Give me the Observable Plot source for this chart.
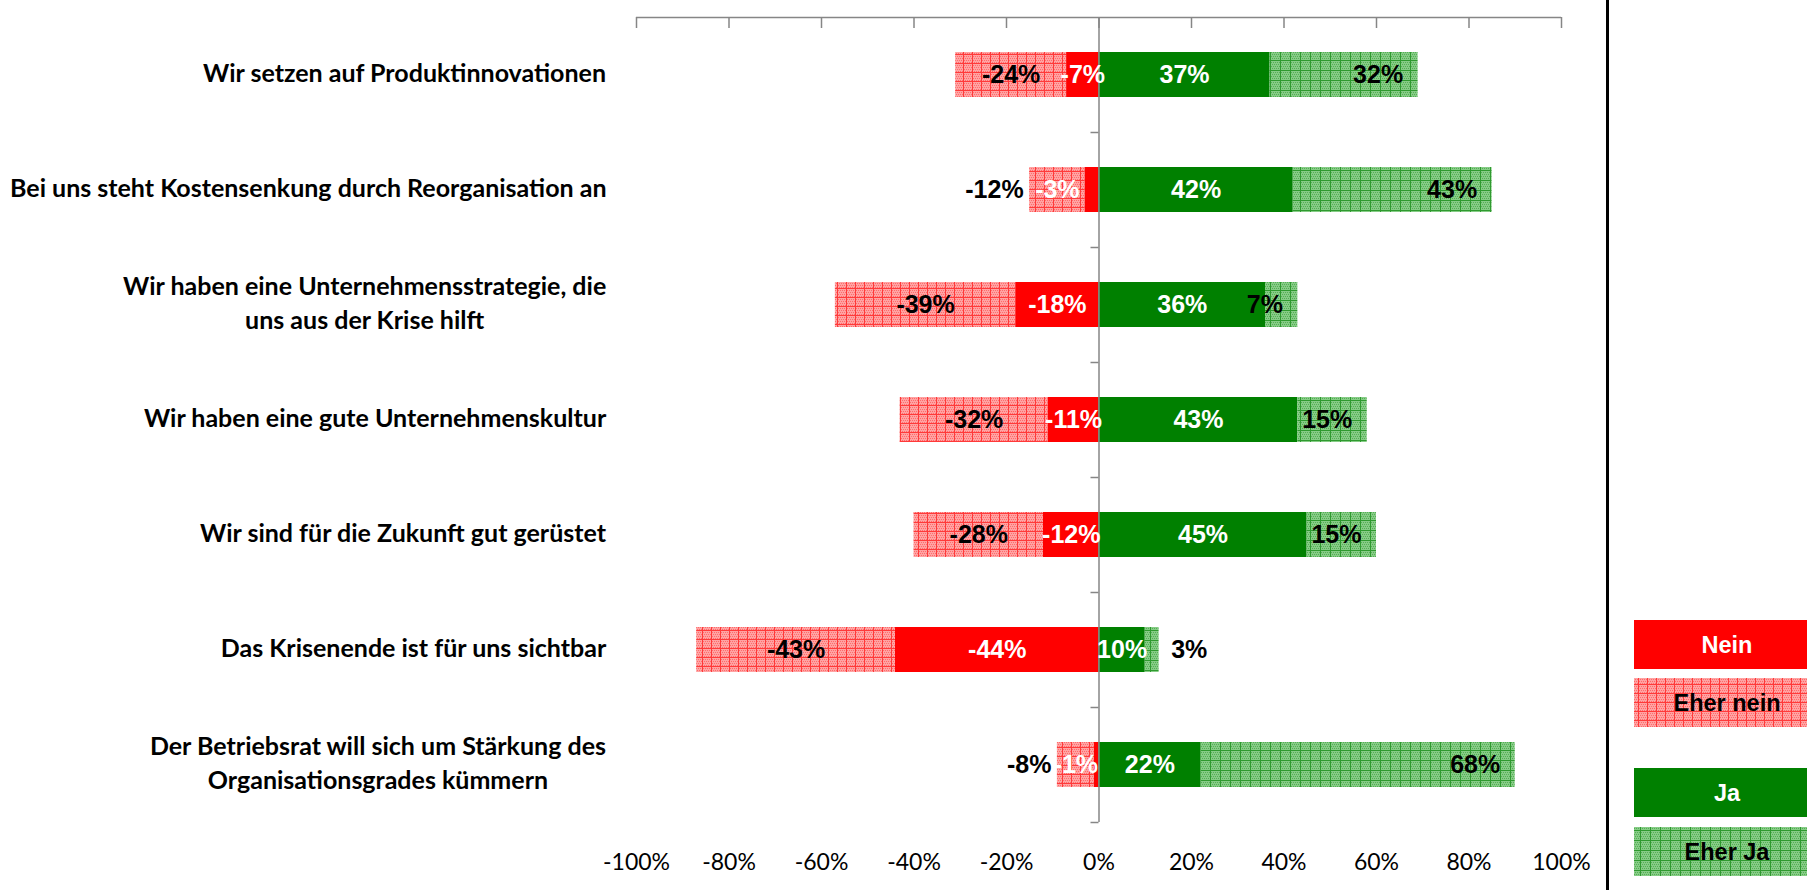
<!DOCTYPE html>
<html><head><meta charset="utf-8">
<script src="https://cdn.jsdelivr.net/npm/d3@7"></script>
<script src="https://cdn.jsdelivr.net/npm/@observablehq/plot@0.6"></script>
<style>
html,body{margin:0;padding:0;background:#fff;}
#chart{width:1807px;height:890px;overflow:hidden;}
</style></head><body><div id="chart"></div>
<script>
// ---- data ----
const categories = [
  "Wir setzen auf Produktinnovationen",
  "Bei uns steht Kostensenkung durch Reorganisation an",
  "Wir haben eine Unternehmensstrategie, die\nuns aus der Krise hilft",
  "Wir haben eine gute Unternehmenskultur",
  "Wir sind für die Zukunft gut gerüstet",
  "Das Krisenende ist für uns sichtbar",
  "Der Betriebsrat will sich um Stärkung des\nOrganisationsgrades kümmern"
];
const series = ["Nein", "Eher nein", "Ja", "Eher Ja"];
const nein     = [-7, -3, -18, -11, -12, -44, -1];
const eherNein = [-24, -12, -39, -32, -28, -43, -8];
const ja       = [37, 42, 36, 43, 45, 10, 22];
const eherJa   = [32, 43, 7, 15, 15, 3, 68];
const xTicks   = [-100, -80, -60, -40, -20, 0, 20, 40, 60, 80, 100];

// ---- layout ----
const W = 1807, H = 890, mL = 636, mR = 246, mT = 17, mB = 68;
const step = (H - mT - mB) / categories.length;
const grey = "#868686";
const labelFont = "'Liberation Sans', Arial, sans-serif";
const catFamily = "Lato, 'Open Sans', sans-serif";
const catSize = 25;
const small = 5;
const fmt = v => `${v}%`;

// segments built from the arrays
const rows = categories.map((cat, i) => ({cat, nein: nein[i], eherNein: eherNein[i], ja: ja[i], eherJa: eherJa[i]}));
const segNein = rows.map(r => ({cat: r.cat, x1: r.nein, x2: 0, v: r.nein, small: Math.abs(r.nein) < small}));
const segEherNein = rows.map(r => ({cat: r.cat, x1: r.nein + r.eherNein, x2: r.nein, v: r.eherNein, small: Math.abs(r.nein) < small}));
const segJa = rows.map(r => ({cat: r.cat, x1: 0, x2: r.ja, v: r.ja}));
const segEherJa = rows.map(r => ({cat: r.cat, x1: r.ja, x2: r.ja + r.eherJa, v: r.eherJa, small: r.eherJa < small}));
const mid = d => (d.x1 + d.x2) / 2;

// category labels: centered multi-line blocks, right aligned at a common edge
const ctx = document.createElement("canvas").getContext("2d");
ctx.font = `bold ${catSize}px Lato`;
const catRight = 606;
const catMarks = categories.map(c => {
  const w = d3.max(c.split("\n"), l => ctx.measureText(l).width);
  return Plot.text([c], {y: d => d, text: d => d, frameAnchor: "left", textAnchor: "middle",
    dx: catRight - w / 2 - mL, dy: -4, fontFamily: catFamily, fontWeight: "bold", fontSize: catSize,
    lineHeight: 1.38, fill: "#000"});
});

const lbl = {fontFamily: labelFont, fontWeight: "bold", fontSize: 25, lineAnchor: "middle"};

const plot = Plot.plot({
  width: W, height: H,
  marginLeft: mL, marginRight: mR, marginTop: mT, marginBottom: mB,
  style: {fontFamily: catFamily, background: "#fff", overflow: "visible"},
  x: {domain: [-100, 100], axis: null},
  y: {domain: categories, paddingInner: 0.61, paddingOuter: 0.305, axis: null},
  marks: [
    // bars
    Plot.barX(segEherNein, {y: "cat", x1: "x1", x2: "x2", fill: "url(#patRed)"}),
    Plot.barX(segNein, {y: "cat", x1: "x1", x2: "x2", fill: "#ff0000"}),
    Plot.barX(segJa, {y: "cat", x1: "x1", x2: "x2", fill: "#008000"}),
    Plot.barX(segEherJa, {y: "cat", x1: "x1", x2: "x2", fill: "url(#patGreen)"}),
    // axes
    Plot.ruleX([0], {stroke: grey, strokeWidth: 1.5}),
    Plot.ruleY(categories, {y: d => d, x1: 0, x2: 0, insetLeft: -8, dy: step / 2, stroke: grey, strokeWidth: 1.5}),
    Plot.ruleY(categories.slice(0, 1), {y: d => d, x1: -100, x2: 100, dy: -step / 2, stroke: grey, strokeWidth: 1.5}),
    Plot.ruleX(xTicks, {x: d => d, insetBottom: (H - mT - mB) - 11, stroke: grey, strokeWidth: 1.5}),
    Plot.axisX({anchor: "bottom", ticks: xTicks, tickSize: 0, tickPadding: 31, tickFormat: fmt,
      fontSize: 23, fontFamily: catFamily, fill: "#000"}),
    // value labels
    Plot.text(segEherNein.filter(d => !d.small), {y: "cat", x: mid, text: d => fmt(d.v), fill: "#000", ...lbl}),
    Plot.text(segEherNein.filter(d => d.small), {y: "cat", x: "x1", text: d => fmt(d.v), textAnchor: "end", dx: -6, fill: "#000", ...lbl}),
    Plot.text(segNein.filter(d => !d.small), {y: "cat", x: mid, text: d => fmt(d.v), fill: "#fff", ...lbl}),
    Plot.text(segNein.filter(d => d.small), {y: "cat", x: (d, i) => mid(segEherNein.filter(e => e.small)[i]), text: d => fmt(d.v), fill: "#fff", ...lbl}),
    Plot.text(segJa, {y: "cat", x: mid, text: d => fmt(d.v), fill: "#fff", ...lbl}),
    Plot.text(segEherJa.filter(d => !d.small), {y: "cat", x: "x2", text: d => fmt(d.v), textAnchor: "end", dx: -15, fill: "#000", ...lbl}),
    Plot.text(segEherJa.filter(d => d.small), {y: "cat", x: "x2", text: d => fmt(d.v), textAnchor: "start", dx: 12, fill: "#000", ...lbl}),
    // category labels
    ...catMarks
  ]
});

// patterns
const svg = d3.select(plot);
const defs = svg.insert("defs", ":first-child");
function pattern(id, size, bg, dot, line) {
  const p = defs.append("pattern").attr("id", id).attr("patternUnits", "userSpaceOnUse")
    .attr("width", size).attr("height", size);
  p.append("rect").attr("width", size).attr("height", size).attr("fill", bg);
  for (let yy = 0; yy < size; yy += 2) for (let xx = (yy / 2) % 2; xx < size; xx += 2)
    p.append("rect").attr("x", xx).attr("y", yy).attr("width", 1).attr("height", 1).attr("fill", dot);
  p.append("rect").attr("x", 0).attr("y", 0).attr("width", size).attr("height", 1).attr("fill", line);
  p.append("rect").attr("x", 0).attr("y", 0).attr("width", 1).attr("height", size).attr("fill", line);
}
pattern("patRed", 9, "#ffa3a3", "#ff6b6b", "#ff3a3a");
pattern("patGreen", 10, "#86cc86", "#55ad55", "#2f9a2f");

// separator line and legend
svg.append("rect").attr("x", 1606).attr("y", 0).attr("width", 3).attr("height", H).attr("fill", "#000");
const legFill = ["#ff0000", "url(#patRed)", "#008000", "url(#patGreen)"];
const legText = ["#fff", "#000", "#fff", "#000"];
const legY = [620, 678, 768, 827];
const leg = svg.append("g");
series.forEach((s, i) => {
  leg.append("rect").attr("x", 1634).attr("y", legY[i]).attr("width", 190).attr("height", 49).attr("fill", legFill[i]);
  leg.append("text").attr("x", 1727).attr("y", legY[i] + 24.5).attr("dy", "0.35em")
    .attr("text-anchor", "middle").attr("font-family", "'Liberation Sans', Arial, sans-serif")
    .attr("font-weight", "bold").attr("font-size", 23.5).attr("fill", legText[i]).text(s);
});

document.getElementById("chart").appendChild(plot);
</script></body></html>
